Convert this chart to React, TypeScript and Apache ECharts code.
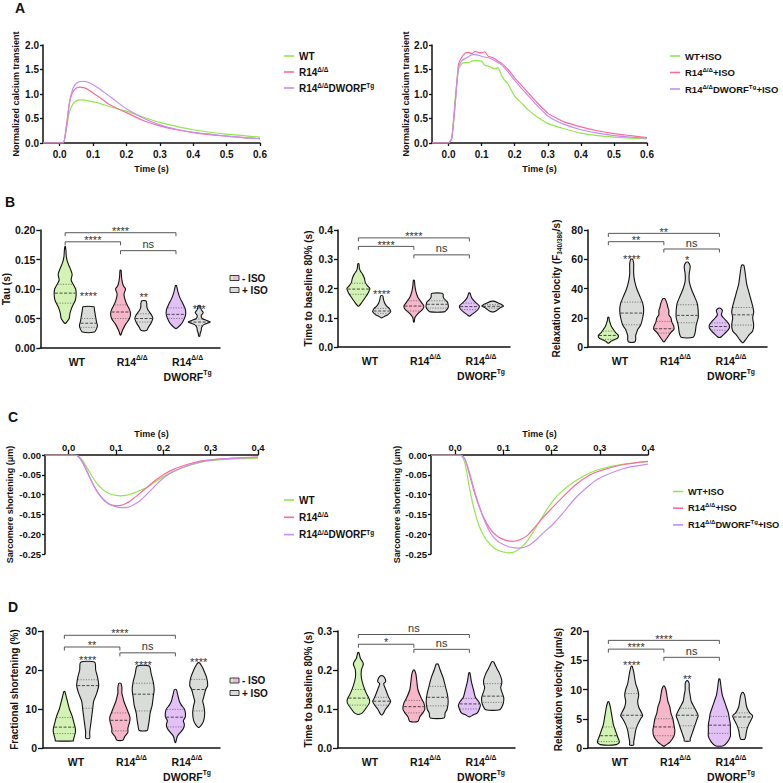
import React, { useEffect, useRef } from 'react';
import * as echarts from 'echarts';

const FONT = '"Liberation Sans", Arial, Helvetica, sans-serif';
const INK = '#111';
const GREEN = '#90e84c';
const PINK = '#ff6a98';
const PURPLE = '#c68cf6';
const FILL_G = '#d2f3b3';
const FILL_P = '#f7b6c9';
const FILL_V = '#e2c1f6';
const FILL_GREY = '#dadcda';

// ---------- Panel A: calcium transients ----------
const A_TIME = [-0.05, 0, 0.01, 0.02, 0.03, 0.04, 0.05, 0.06, 0.07, 0.08, 0.1, 0.12, 0.15, 0.2, 0.25, 0.3, 0.35, 0.4, 0.45, 0.5, 0.55, 0.6];
const A_WT = [0, 0, 0, 0.3, 0.65, 0.8, 0.86, 0.88, 0.88, 0.87, 0.84, 0.81, 0.74, 0.65, 0.53, 0.42, 0.34, 0.27, 0.22, 0.18, 0.15, 0.12];
const A_R14 = [0, 0, 0, 0.35, 0.85, 1.05, 1.12, 1.14, 1.13, 1.11, 1.02, 0.93, 0.78, 0.62, 0.46, 0.35, 0.27, 0.21, 0.17, 0.14, 0.11, 0.09];
const A_DW = [0, 0, 0, 0.3, 0.85, 1.12, 1.22, 1.25, 1.26, 1.25, 1.19, 1.1, 0.95, 0.7, 0.51, 0.37, 0.28, 0.22, 0.18, 0.14, 0.11, 0.09];

const AI_TIME = [-0.05, 0, 0.01, 0.02, 0.03, 0.04, 0.05, 0.06, 0.07, 0.08, 0.09, 0.1, 0.11, 0.12, 0.13, 0.14, 0.15, 0.16, 0.17, 0.18, 0.2, 0.22, 0.24, 0.26, 0.28, 0.3, 0.32, 0.35, 0.4, 0.45, 0.5, 0.55, 0.6];
const AI_WT = [0, 0, 0.1, 0.9, 1.5, 1.62, 1.64, 1.64, 1.67, 1.68, 1.68, 1.67, 1.58, 1.57, 1.54, 1.51, 1.54, 1.38, 1.28, 1.2, 0.95, 0.82, 0.68, 0.57, 0.48, 0.4, 0.35, 0.29, 0.2, 0.15, 0.12, 0.1, 0.09];
const AI_R14 = [0, 0, 0.1, 0.8, 1.6, 1.75, 1.83, 1.85, 1.82, 1.87, 1.85, 1.84, 1.86, 1.77, 1.75, 1.72, 1.67, 1.63, 1.57, 1.5, 1.33, 1.18, 1.03, 0.88, 0.74, 0.61, 0.53, 0.43, 0.33, 0.25, 0.19, 0.15, 0.11];
const AI_DW = [0, 0, 0.1, 0.8, 1.55, 1.68, 1.72, 1.76, 1.8, 1.81, 1.79, 1.77, 1.75, 1.74, 1.72, 1.68, 1.64, 1.6, 1.53, 1.45, 1.28, 1.12, 0.97, 0.82, 0.68, 0.55, 0.47, 0.38, 0.27, 0.2, 0.15, 0.12, 0.1];
const A_TICKS = [0, 0.1, 0.2, 0.3, 0.4, 0.5, 0.6];

// ---------- Panel C: sarcomere shortening ----------
const C_TIME = [-0.05, 0, 0.01, 0.02, 0.03, 0.04, 0.05, 0.06, 0.07, 0.08, 0.09, 0.1, 0.11, 0.12, 0.13, 0.14, 0.15, 0.16, 0.17, 0.18, 0.2, 0.22, 0.25, 0.28, 0.3, 0.35, 0.4];
const C_WT = [0, 0, 0, -0.003, -0.015, -0.035, -0.055, -0.072, -0.085, -0.094, -0.099, -0.102, -0.103, -0.102, -0.099, -0.095, -0.09, -0.085, -0.078, -0.07, -0.055, -0.042, -0.028, -0.018, -0.014, -0.01, -0.008];
const C_R14 = [0, 0, 0, -0.003, -0.02, -0.045, -0.07, -0.092, -0.108, -0.119, -0.126, -0.128, -0.127, -0.123, -0.116, -0.107, -0.097, -0.087, -0.077, -0.067, -0.05, -0.037, -0.024, -0.015, -0.012, -0.008, -0.005];
const C_DW = [0, 0, 0, -0.003, -0.02, -0.045, -0.07, -0.092, -0.108, -0.12, -0.127, -0.131, -0.133, -0.133, -0.13, -0.124, -0.116, -0.105, -0.093, -0.081, -0.058, -0.043, -0.027, -0.017, -0.013, -0.008, -0.006];
const CI_WT = [0, 0, 0, -0.02, -0.085, -0.14, -0.18, -0.205, -0.222, -0.234, -0.241, -0.245, -0.247, -0.246, -0.24, -0.23, -0.216, -0.198, -0.178, -0.158, -0.12, -0.093, -0.065, -0.045, -0.036, -0.023, -0.017];
const CI_R14 = [0, 0, 0, -0.01, -0.05, -0.095, -0.131, -0.16, -0.182, -0.197, -0.207, -0.213, -0.217, -0.218, -0.216, -0.211, -0.203, -0.19, -0.176, -0.161, -0.135, -0.11, -0.075, -0.05, -0.04, -0.024, -0.016];
const CI_DW = [0, 0, 0, -0.01, -0.045, -0.09, -0.128, -0.163, -0.19, -0.208, -0.219, -0.226, -0.231, -0.234, -0.235, -0.234, -0.23, -0.222, -0.212, -0.2, -0.178, -0.152, -0.108, -0.075, -0.058, -0.034, -0.023];
const C_TICKS = [0, 0.1, 0.2, 0.3, 0.4];

// ---------- Violin data: [value, density half-width] bottom to top; order WT-, WT+, R14-, R14+, DW-, DW+ ----------
const TAU_PROFILES = [
  [[0.042, 0.5], [0.045, 2], [0.05, 4], [0.055, 4.5], [0.06, 5], [0.07, 7], [0.08, 10], [0.09, 11], [0.1, 10.5], [0.108, 8], [0.115, 6], [0.125, 7], [0.135, 5], [0.145, 2.5], [0.155, 1.2], [0.165, 0.8], [0.172, 0.3]],
  [[0.027, 6], [0.032, 8], [0.038, 9], [0.045, 8], [0.055, 7], [0.065, 6], [0.07, 5.5]],
  [[0.022, 0.3], [0.03, 2], [0.04, 5], [0.05, 9], [0.058, 10], [0.065, 9], [0.075, 6], [0.085, 4], [0.092, 3.5], [0.1, 5], [0.105, 3], [0.11, 2], [0.12, 1], [0.132, 0.5]],
  [[0.03, 3], [0.035, 4.5], [0.04, 6.5], [0.045, 8], [0.05, 9], [0.055, 8], [0.06, 6], [0.065, 4], [0.07, 3], [0.075, 3], [0.08, 2]],
  [[0.033, 0.3], [0.035, 2], [0.04, 5], [0.045, 7], [0.055, 9.5], [0.065, 9.5], [0.075, 7], [0.085, 4], [0.095, 2], [0.106, 0.5]],
  [[0.02, 0.5], [0.025, 1], [0.03, 2], [0.035, 2.5], [0.04, 5], [0.044, 11], [0.047, 7], [0.05, 3], [0.055, 2], [0.06, 4], [0.065, 2], [0.072, 1]],
];
const TAU_QUARTILES = [[0.076, 0.093, 0.108], [0.035, 0.042, 0.05], [0.05, 0.061, 0.073], [0.044, 0.05, 0.058], [0.05, 0.057, 0.068], [0.038, 0.044, 0.049]];
const TAU_BRACKETS = [[0, 2, 0.1954, '****'], [0, 1, 0.18, '****'], [1, 2, 0.165, 'ns']];
const TAU_STARS = [[0, 0.093, '****'], [1, 0.09, '**'], [2, 0.0705, '***']];

const CA80_PROFILES = [
  [[0.14, 0.5], [0.15, 3], [0.16, 5], [0.17, 7], [0.18, 9], [0.19, 10.5], [0.2, 11.5], [0.21, 9], [0.22, 7], [0.235, 6], [0.25, 4], [0.26, 2], [0.27, 1], [0.285, 0.5]],
  [[0.1, 0.5], [0.105, 3], [0.11, 6], [0.12, 9], [0.13, 8], [0.14, 5], [0.15, 3], [0.16, 2], [0.175, 1]],
  [[0.085, 0.3], [0.1, 1], [0.11, 3], [0.12, 6], [0.13, 9], [0.14, 10], [0.15, 8], [0.16, 6], [0.17, 4], [0.19, 2], [0.21, 1], [0.228, 0.5]],
  [[0.12, 7], [0.125, 9], [0.135, 11], [0.145, 11], [0.155, 10], [0.165, 7], [0.172, 6], [0.18, 6], [0.184, 5]],
  [[0.106, 0.5], [0.11, 2], [0.12, 6], [0.13, 9], [0.14, 10], [0.15, 7], [0.16, 4], [0.17, 2], [0.185, 0.5]],
  [[0.12, 1], [0.125, 4], [0.13, 6], [0.135, 8], [0.14, 11], [0.145, 9], [0.15, 6], [0.156, 2]],
];
const CA80_QUARTILES = [[0.18, 0.198, 0.218], [0.115, 0.123, 0.132], [0.123, 0.14, 0.158], [0.133, 0.146, 0.158], [0.128, 0.138, 0.15], [0.133, 0.139, 0.145]];
const CA80_BRACKETS = [[0, 2, 0.373, '****'], [0, 1, 0.344, '****'], [1, 2, 0.315, 'ns']];
const CA80_STARS = [[0, 0.191, '****']];

const CAVEL_PROFILES = [
  [[2.7, 0.5], [4, 3], [5, 6], [6, 9], [7, 10], [8, 10], [10, 7], [12, 5], [14, 3], [16, 2], [18, 1], [20.4, 0.5]],
  [[3.4, 3], [5, 4], [8, 4], [10, 5], [12, 6], [15, 9], [20, 11], [25, 12], [30, 11], [35, 8], [40, 5], [45, 3], [50, 2], [55, 2], [57, 2], [60, 1]],
  [[3.5, 0.3], [4, 1], [6, 3], [8, 5], [10, 7], [12, 10], [14, 10], [17, 8], [20, 7], [22, 5], [25, 5], [27, 4], [30, 3], [33, 1]],
  [[6.6, 6], [10, 8], [15, 9], [20, 11], [25, 11], [30, 10], [35, 7], [40, 4], [45, 2], [50, 2], [55, 3], [58, 1]],
  [[6.5, 0.5], [7, 2], [9, 5], [11, 8], [13, 10], [15, 10], [17, 8], [20, 4], [22, 2], [25, 3], [26.5, 1]],
  [[3, 0.5], [5, 3], [8, 6], [11, 10], [15, 11], [20, 10], [24, 11], [28, 10], [33, 8], [38, 6], [43, 4], [48, 3], [53, 2], [56, 1]],
];
const CAVEL_QUARTILES = [[5.2, 7.9, 10.9], [15.2, 23.2, 30.7], [9.5, 12.5, 17.5], [16.6, 21.6, 28.9], [11.5, 14, 16.5], [15, 22, 27]];
const CAVEL_BRACKETS = [[0, 2, 77.7, '**'], [0, 1, 72, '**'], [1, 2, 67, 'ns']];
const CAVEL_STARS = [[0, 62, '****'], [1, 61.4, '*']];

const FS_PROFILES = [
  [[1.8, 9], [2, 9], [3, 10], [4, 11], [5, 11], [6, 10], [8, 8], [10, 5], [11, 4], [12, 3], [13, 2], [14.5, 0.5]],
  [[2.5, 2], [4, 2], [6, 3], [8, 4], [10, 5], [12, 6], [14, 9], [16, 11], [18, 10], [20, 8], [22, 7]],
  [[2, 3], [3, 5], [4, 8], [5, 8], [6, 9], [7, 10], [8, 10], [10, 7], [12, 4], [13, 3], [14, 2], [15.5, 2], [16.6, 1]],
  [[4.5, 4], [5.5, 5], [7, 6], [9, 7], [11, 9], [13, 10], [15, 11], [17, 10], [19, 8], [21, 6]],
  [[1.4, 0.3], [3, 2], [4, 5], [5, 8], [6, 9], [7, 8], [8, 10], [9, 10], [10, 9], [11, 6], [12, 4], [14, 2], [15, 1]],
  [[5.3, 0.5], [6, 3], [7, 5], [9, 6], [11, 5], [12, 4], [13, 5], [15, 7], [16, 9], [18, 8], [20, 5], [21, 3], [21.8, 1]],
];
const FS_QUARTILES = [[3.7, 5.35, 7.8], [10.2, 16, 17.5], [4.4, 7.1, 9], [9.5, 13.8, 16.6], [5.4, 7.9, 9.9], [9.5, 15, 17.6]];
const FS_BRACKETS = [[0, 2, 28.9, '****'], [0, 1, 25.9, '**'], [1, 2, 24.4, 'ns']];
const FS_STARS = [[0, 23.1, '****'], [1, 21.9, '****'], [2, 22.7, '****']];

const SL80_PROFILES = [
  [[0.086, 0.5], [0.09, 4], [0.1, 7], [0.115, 11], [0.125, 11], [0.14, 8], [0.16, 5], [0.18, 3], [0.2, 3], [0.215, 5], [0.222, 4], [0.23, 2], [0.245, 0.5]],
  [[0.085, 0.5], [0.09, 2], [0.1, 4], [0.11, 7], [0.12, 9], [0.13, 7], [0.15, 4], [0.165, 2], [0.17, 4], [0.18, 3], [0.185, 1]],
  [[0.068, 4], [0.08, 6], [0.09, 9], [0.1, 11], [0.115, 10], [0.13, 7], [0.15, 4], [0.17, 3], [0.19, 2], [0.2, 0.5]],
  [[0.077, 7], [0.09, 8], [0.1, 10], [0.12, 11], [0.14, 10], [0.16, 8], [0.18, 6], [0.2, 3], [0.215, 1]],
  [[0.08, 0.5], [0.085, 4], [0.09, 8], [0.1, 10], [0.11, 11], [0.12, 9], [0.13, 6], [0.15, 4], [0.17, 2], [0.193, 0.5]],
  [[0.098, 7], [0.11, 10], [0.12, 11], [0.13, 11], [0.145, 9], [0.155, 8], [0.165, 9], [0.175, 9], [0.19, 7], [0.2, 5], [0.21, 3], [0.221, 1]],
];
const SL80_QUARTILES = [[0.11, 0.128, 0.15], [0.11, 0.12, 0.13], [0.09, 0.106, 0.122], [0.108, 0.13, 0.158], [0.1, 0.113, 0.127], [0.117, 0.133, 0.165]];
const SL80_BRACKETS = [[0, 2, 0.291, 'ns'], [0, 1, 0.266, '*'], [1, 2, 0.253, 'ns']];
const SL80_STARS = [];

const SLVEL_PROFILES = [
  [[0.57, 8], [1, 11], [2, 9], [3, 7], [4, 5], [5, 4], [6, 3], [7, 2], [7.9, 0.5]],
  [[0.5, 2], [1, 2], [2, 3], [3, 4], [4, 6], [5, 9], [5.5, 11], [6, 10], [7, 7], [8, 6], [9, 7], [10, 6], [11, 4], [13, 2], [14, 0.5]],
  [[0.3, 0.3], [0.5, 2], [1, 6], [2, 10], [3, 11], [4, 10], [5, 9], [6, 7], [7, 6], [8, 4], [9, 3], [10, 2], [10.6, 0.5]],
  [[1.2, 3], [1.5, 3], [2, 4], [3, 6], [4, 8], [5, 10], [5.5, 11], [6, 10], [7, 7], [8, 4], [9, 3], [10, 2], [11, 2], [11.5, 0.5]],
  [[0.4, 4], [1, 8], [2, 11], [3, 11], [4, 11], [5, 10], [6, 9], [7, 7], [8, 5], [9, 3], [10, 2], [11.8, 0.5]],
  [[1.5, 2], [2, 3], [3, 4], [4, 6], [5, 9], [5.5, 10], [6, 7], [7, 4], [8, 3], [9, 2], [9.5, 0.5]],
];
const SLVEL_QUARTILES = [[1.1, 2.1, 3.6], [3.4, 5.6, 9.3], [2.1, 3.6, 5], [3.8, 5.6, 6.8], [2.5, 3.9, 5.4], [3.5, 5.3, 6]];
const SLVEL_BRACKETS = [[0, 2, 18.4, '****'], [0, 1, 16.9, '****'], [1, 2, 15.5, 'ns']];
const SLVEL_STARS = [[0, 14.6, '****'], [1, 12.3, '**']];

const CATEGORY_LABELS = ['{b|WT}', '{b|R14}{sup|Δ/Δ}', '{b|R14}{sup|Δ/Δ}\n{b|DWORF}{sup|Tg}'];
const LEGEND_LABELS: Record<string, string> = {
  'WT': '{b|WT}',
  'R14': '{b|R14}{sup|Δ/Δ}',
  'R14DW': '{b|R14}{sup|Δ/Δ}{b|DWORF}{sup|Tg}',
  'WT+ISO': '{b|WT+ISO}',
  'R14+ISO': '{b|R14}{sup|Δ/Δ}{b|+ISO}',
  'R14DW+ISO': '{b|R14}{sup|Δ/Δ}{b|DWORF}{sup|Tg}{b|+ISO}',
};

const VIOLIN_FILLS = [FILL_G, FILL_GREY, FILL_P, FILL_GREY, FILL_V, FILL_GREY];
const OFFSET = 0.21;
const WSCALE = 1 / 55.5;

const RICH_SUP = (size: number, lh: number) => ({
  b: { fontFamily: FONT, fontSize: size, fontWeight: 'bold', color: INK, lineHeight: lh },
  sup: { fontFamily: FONT, fontSize: size * 0.65, fontWeight: 'bold', color: INK, lineHeight: lh * 0.5, verticalAlign: 'top' },
});

function interpWidth(prof: number[][], q: number) {
  for (let i = 0; i < prof.length - 1; i++) {
    const [v0, w0] = prof[i];
    const [v1, w1] = prof[i + 1];
    if (q >= v0 && q <= v1) return w0 + ((q - v0) / (v1 - v0)) * (w1 - w0);
  }
  return 0;
}

function violinSeries(gi: number, profiles: any[], quartiles: number[][]) {
  const pos = (i: number) => Math.floor(i / 2) + (i % 2 ? OFFSET : -OFFSET);
  return {
    type: 'custom',
    xAxisIndex: gi,
    yAxisIndex: gi,
    silent: true,
    data: profiles.map((_p: any, i: number) => [pos(i), quartiles[i][1]]),
    renderItem: (params: any, api: any) => {
      const i = params.dataIndex;
      const prof = profiles[i];
      const cx = pos(i);
      const right = prof.map(([v, w]: number[]) => api.coord([cx + w * WSCALE, v]));
      const left = prof.slice().reverse().map(([v, w]: number[]) => api.coord([cx - w * WSCALE, v]));
      const children: any[] = [
        {
          type: 'polygon',
          shape: { points: right.concat(left), smooth: 0.25 },
          style: { fill: VIOLIN_FILLS[i], stroke: INK, lineWidth: 1.1 },
        },
      ];
      quartiles[i].forEach((q, k) => {
        const w = Math.max(interpWidth(prof, q) - 0.6, 0);
        const a = api.coord([cx - w * WSCALE, q]);
        const b = api.coord([cx + w * WSCALE, q]);
        children.push({
          type: 'line',
          shape: { x1: a[0], y1: a[1], x2: b[0], y2: b[1] },
          style: { stroke: k === 1 ? '#222' : '#666', lineWidth: 0.8, lineDash: k === 1 ? [3, 1.6] : [1.2, 1.4] },
        });
      });
      return { type: 'group', children };
    },
  };
}

function annotSeries(gi: number, brackets: any[], stars: any[]) {
  const items = brackets.map((b: any) => [(b[0] + b[1]) / 2 - OFFSET, b[2]]).concat(stars.map((s: any) => [s[0] + OFFSET, s[1]]));
  const textStyle = (label: string) => ({ text: label, fill: '#333', fontFamily: FONT, fontSize: 11, align: 'center', verticalAlign: 'middle' });
  return {
    type: 'custom',
    xAxisIndex: gi,
    yAxisIndex: gi,
    silent: true,
    data: items,
    renderItem: (params: any, api: any) => {
      const i = params.dataIndex;
      if (i < brackets.length) {
        const [g1, g2, v, label] = brackets[i];
        const p1 = api.coord([g1 - OFFSET, v]);
        const p2 = api.coord([g2 - OFFSET, v]);
        const star = label.indexOf('*') >= 0;
        return {
          type: 'group',
          children: [
            { type: 'polyline', shape: { points: [[p1[0], p1[1] + 3.5], [p1[0], p1[1]], [p2[0], p2[1]], [p2[0], p2[1] + 3.5]] }, style: { stroke: '#444', lineWidth: 0.9, fill: null } },
            { type: 'text', x: (p1[0] + p2[0]) / 2, y: p1[1] + (star ? -1.8 : -6.5), style: textStyle(label) },
          ],
        };
      }
      const [g, v, label] = stars[i - brackets.length];
      const p = api.coord([g + OFFSET, v]);
      return {
        type: 'group',
        children: [{ type: 'text', x: p[0], y: p[1] + 2.5, style: textStyle(label) }],
      };
    },
  };
}

const AXIS_LINE = { onZero: false, lineStyle: { color: INK, width: 1.5 } };
const TICK = (len: number) => ({ length: len, lineStyle: { color: INK, width: 1.3 } });

function yValueAxis(gi: number, min: number, max: number, interval: number, dec: number, name: any, gap: number, opts: any = {}) {
  return {
    gridIndex: gi,
    type: 'value',
    min,
    max,
    interval,
    axisLine: AXIS_LINE,
    axisTick: TICK(opts.tick ?? 4),
    splitLine: { show: false },
    axisLabel: { formatter: (v: number) => v.toFixed(dec), fontFamily: FONT, fontSize: opts.labelSize ?? 10.5, fontWeight: 'bold', color: INK, margin: opts.margin ?? 5 },
    name,
    nameLocation: 'middle',
    nameGap: gap,
    nameTextStyle: { fontFamily: FONT, fontSize: opts.nameSize ?? 10, fontWeight: 'bold', color: INK, rich: opts.rich },
  };
}

function catXAxis(gi: number, min: number, max: number) {
  return {
    gridIndex: gi,
    type: 'value',
    min,
    max,
    axisLine: AXIS_LINE,
    axisTick: { show: false },
    splitLine: { show: false },
    axisLabel: {
      customValues: [0, 1, 2],
      formatter: (v: number) => CATEGORY_LABELS[Math.round(v)],
      margin: 6,
      rich: RICH_SUP(10.5, 15),
    },
  };
}

function timeXAxis(gi: number, min: number, max: number, ticks: number[], top: boolean) {
  return {
    gridIndex: gi,
    type: 'value',
    min,
    max,
    position: top ? 'top' : 'bottom',
    axisLine: AXIS_LINE,
    axisTick: { customValues: ticks, ...TICK(top ? 5 : 3) },
    splitLine: { show: false },
    axisLabel: { customValues: ticks, formatter: (v: number) => v.toFixed(1), fontFamily: FONT, fontSize: top ? 9.5 : 10, fontWeight: 'bold', color: INK, margin: top ? 3 : 6 },
    name: 'Time (s)',
    nameLocation: 'middle',
    nameGap: top ? 17 : 21,
    nameTextStyle: { fontFamily: FONT, fontSize: 9, fontWeight: 'bold', color: INK },
  };
}

function lineSeries(name: string, gi: number, t: number[], v: number[], color: string, smooth: number) {
  return {
    type: 'line',
    name,
    xAxisIndex: gi,
    yAxisIndex: gi,
    data: t.map((x, i) => [x, v[i]]),
    showSymbol: false,
    smooth,
    color,
    lineStyle: { color, width: 1.2 },
    silent: true,
  };
}

function lineLegend(left: number, top: number, gap: number, names: string[], size: number) {
  return {
    left,
    top,
    orient: 'vertical',
    data: names,
    icon: 'rect',
    itemWidth: 10,
    itemHeight: 1.6,
    itemGap: gap,
    selectedMode: false,
    formatter: (n: string) => LEGEND_LABELS[n],
    textStyle: { rich: RICH_SUP(size, 12) },
  };
}

function isoLegend(x: number, y1: number, y2: number) {
  const grad = new echarts.graphic.LinearGradient(0, 0, 1, 0, [
    { offset: 0, color: FILL_G }, { offset: 0.34, color: FILL_G },
    { offset: 0.34, color: FILL_P }, { offset: 0.67, color: FILL_P },
    { offset: 0.67, color: FILL_V }, { offset: 1, color: FILL_V },
  ]);
  const txt = (t: string, y: number) => ({ type: 'text', x: x + 12, y, style: { text: t, fill: INK, fontFamily: FONT, fontSize: 10, fontWeight: 'bold', verticalAlign: 'middle', align: 'left' } });
  return [
    { type: 'rect', shape: { x, y: y1 - 2.5, width: 9, height: 5 }, style: { fill: grad, stroke: INK, lineWidth: 0.8 } },
    txt('- ISO', y1),
    { type: 'rect', shape: { x, y: y2 - 2.5, width: 9, height: 5 }, style: { fill: FILL_GREY, stroke: INK, lineWidth: 0.8 } },
    txt('+ ISO', y2),
  ];
}

function panelLetter(t: string, x: number, y: number) {
  return { type: 'text', x, y, style: { text: t, fill: INK, fontFamily: FONT, fontSize: 14, fontWeight: 'bold', verticalAlign: 'middle' } };
}

function buildOption() {
  const grids = [
    { left: 43, top: 45, width: 217, height: 98 },
    { left: 432, top: 45, width: 215, height: 98 },
    { left: 40, top: 230, width: 180, height: 118 },
    { left: 338, top: 230, width: 172, height: 117 },
    { left: 588, top: 230, width: 179, height: 117 },
    { left: 45, top: 455, width: 213, height: 99 },
    { left: 431, top: 455, width: 217, height: 99 },
    { left: 43, top: 631, width: 177, height: 117 },
    { left: 338, top: 631, width: 177, height: 117 },
    { left: 588, top: 631, width: 174, height: 117 },
  ];
  const subRich = {
    n: { fontFamily: FONT, fontSize: 10, fontWeight: 'bold', color: INK, lineHeight: 14 },
    sub: { fontFamily: FONT, fontSize: 6.5, fontWeight: 'bold', color: INK, lineHeight: 7, verticalAlign: 'bottom' },
  };
  const xAxis = [
    timeXAxis(0, -0.05, 0.6, A_TICKS, false),
    timeXAxis(1, -0.05, 0.6, A_TICKS, false),
    catXAxis(2, -0.658, 2.585),
    catXAxis(3, -0.577, 2.522),
    catXAxis(4, -0.577, 2.648),
    timeXAxis(5, -0.05, 0.4, C_TICKS, true),
    timeXAxis(6, -0.05, 0.4, C_TICKS, true),
    catXAxis(7, -0.595, 2.594),
    catXAxis(8, -0.577, 2.612),
    catXAxis(9, -0.577, 2.558),
  ];
  const yAxis = [
    yValueAxis(0, 0, 2, 0.5, 1, 'Normalized calcium transient', 23, { nameSize: 9, labelSize: 10, tick: 3, margin: 4 }),
    yValueAxis(1, 0, 2, 0.5, 1, 'Normalized calcium transient', 22, { nameSize: 9, labelSize: 10, tick: 3, margin: 4 }),
    yValueAxis(2, 0, 0.2, 0.05, 2, 'Tau (s)', 29, { margin: 5 }),
    yValueAxis(3, 0, 0.4, 0.1, 1, 'Time to baseline 80% (s)', 25, { margin: 5 }),
    yValueAxis(4, 0, 80, 20, 0, '{n|Relaxation velocity (F}{sub|340/380}{n|/s)}', 25, { margin: 5, rich: subRich }),
    yValueAxis(5, -0.25, 0, 0.05, 2, 'Sarcomere shortening (μm)', 31, { nameSize: 9, labelSize: 9.5, tick: 3, margin: 4 }),
    yValueAxis(6, -0.25, 0, 0.05, 2, 'Sarcomere shortening (μm)', 29, { nameSize: 9, labelSize: 9.5, tick: 3, margin: 4 }),
    yValueAxis(7, 0, 30, 10, 0, 'Fractional shortening (%)', 24, { tick: 5, margin: 6 }),
    yValueAxis(8, 0, 0.3, 0.1, 1, 'Time to baseline 80% (s)', 25, { tick: 5, margin: 6 }),
    yValueAxis(9, 0, 20, 5, 0, 'Relaxation velocity (μm/s)', 25, { tick: 5, margin: 6 }),
  ];
  const series: any[] = [
    lineSeries('WT', 0, A_TIME, A_WT, GREEN, 0.3),
    lineSeries('R14', 0, A_TIME, A_R14, PINK, 0.3),
    lineSeries('R14DW', 0, A_TIME, A_DW, PURPLE, 0.3),
    lineSeries('WT+ISO', 1, AI_TIME, AI_WT, GREEN, 0.15),
    lineSeries('R14+ISO', 1, AI_TIME, AI_R14, PINK, 0.15),
    lineSeries('R14DW+ISO', 1, AI_TIME, AI_DW, PURPLE, 0.15),
    lineSeries('WT', 5, C_TIME, C_WT, GREEN, 0.3),
    lineSeries('R14', 5, C_TIME, C_R14, PINK, 0.3),
    lineSeries('R14DW', 5, C_TIME, C_DW, PURPLE, 0.3),
    lineSeries('WT+ISO', 6, C_TIME, CI_WT, GREEN, 0.3),
    lineSeries('R14+ISO', 6, C_TIME, CI_R14, PINK, 0.3),
    lineSeries('R14DW+ISO', 6, C_TIME, CI_DW, PURPLE, 0.3),
    violinSeries(2, TAU_PROFILES, TAU_QUARTILES),
    violinSeries(3, CA80_PROFILES, CA80_QUARTILES),
    violinSeries(4, CAVEL_PROFILES, CAVEL_QUARTILES),
    violinSeries(7, FS_PROFILES, FS_QUARTILES),
    violinSeries(8, SL80_PROFILES, SL80_QUARTILES),
    violinSeries(9, SLVEL_PROFILES, SLVEL_QUARTILES),
    annotSeries(2, TAU_BRACKETS, TAU_STARS),
    annotSeries(3, CA80_BRACKETS, CA80_STARS),
    annotSeries(4, CAVEL_BRACKETS, CAVEL_STARS),
    annotSeries(7, FS_BRACKETS, FS_STARS),
    annotSeries(8, SL80_BRACKETS, SL80_STARS),
    annotSeries(9, SLVEL_BRACKETS, SLVEL_STARS),
  ];
  return {
    animation: false,
    backgroundColor: '#fff',
    textStyle: { fontFamily: FONT },
    grid: grids,
    xAxis,
    yAxis,
    series,
    legend: [
      lineLegend(279, 46, 5, ['WT', 'R14', 'R14DW'], 10),
      lineLegend(665, 46, 5.5, ['WT+ISO', 'R14+ISO', 'R14DW+ISO'], 9.5),
      lineLegend(279, 490, 6.3, ['WT', 'R14', 'R14DW'], 10),
      lineLegend(668, 482, 6.2, ['WT+ISO', 'R14+ISO', 'R14DW+ISO'], 9.3),
    ],
    graphic: [
      panelLetter('A', 15, 8),
      panelLetter('B', 5, 202),
      panelLetter('C', 8, 417),
      panelLetter('D', 8, 607),
      ...isoLegend(230, 278, 290),
      ...isoLegend(230, 680.5, 693),
    ],
  };
}

export default function App() {
  const ref = useRef<HTMLDivElement>(null);
  useEffect(() => {
    const chart = echarts.init(ref.current as HTMLDivElement, null, { renderer: 'svg' });
    chart.setOption(buildOption() as any);
    return () => chart.dispose();
  }, []);
  return <div ref={ref} style={{ position: 'fixed', left: 0, top: 0, width: 783, height: 783, background: '#fff' }} />;
}
